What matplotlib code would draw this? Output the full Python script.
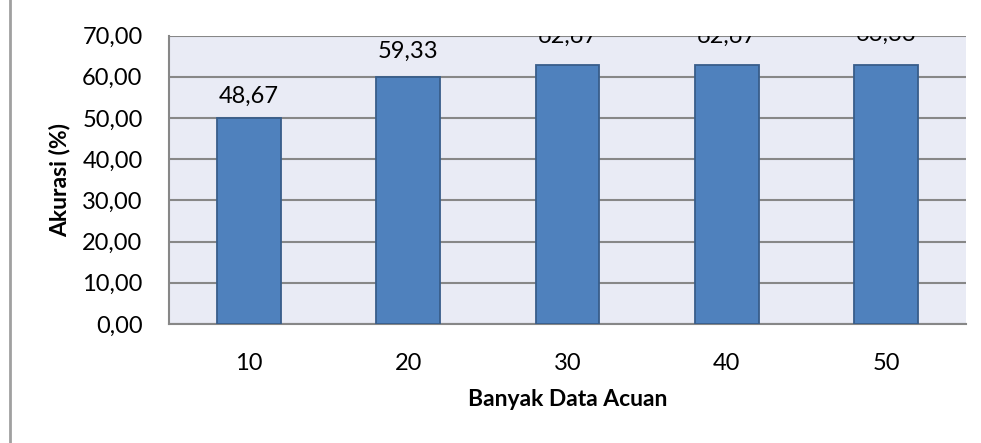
import numpy as np
import matplotlib.pyplot as plt
from matplotlib.lines import Line2D

categories = ['10', '20', '30', '40', '50']
bar_values = [50.0, 60.0, 62.8, 62.8, 62.8]
label_texts = ['48,67', '59,33', '62,67', '62,67', '63,33']
label_y = [55.2, 66.2, 69.9, 69.9, 70.4]
yticks = [0, 10, 20, 30, 40, 50, 60, 70]
ytick_labels = ['0,00', '10,00', '20,00', '30,00', '40,00', '50,00', '60,00', '70,00']

plt.rcParams['font.family'] = ['Lato', 'DejaVu Sans']

fig = plt.figure(figsize=(9.81, 4.43), dpi=100)
ax = fig.add_axes([169 / 981, (443 - 324) / 443, (966 - 169) / 981, (324 - 35.5) / 443])
ax.set_facecolor('#E9EBF5')

x = np.arange(len(categories))
ax.bar(x, bar_values, width=0.4, color='#4F81BD', edgecolor='#385D8A', linewidth=1.3, zorder=3)

# labels are placed by hand in the original, and clipped by the plot area
for xi, yi, t in zip(x, label_y, label_texts):
    ax.text(xi, yi, t, ha='center', va='center', fontsize=17, clip_on=True, zorder=4)

ax.set_xlim(-0.5, len(categories) - 0.5)
ax.set_ylim(0, 70)
ax.set_yticks(yticks)
ax.set_yticklabels(ytick_labels, fontsize=17)
ax.set_xticks(x)
ax.set_xticklabels(categories, fontsize=17)
ax.tick_params(axis='y', length=0, pad=19)
ax.tick_params(axis='x', length=0, pad=21)
ax.yaxis.grid(True, color='#878787', linewidth=1.5, zorder=0)
ax.set_axisbelow(True)

for s in ['top', 'right']:
    ax.spines[s].set_visible(False)
ax.spines['left'].set_color('#878787')
ax.spines['left'].set_linewidth(1.5)
ax.spines['bottom'].set_color('#878787')
ax.spines['bottom'].set_linewidth(1.5)

ax.set_xlabel('Banyak Data Acuan', fontsize=16.5, fontweight='bold')
ax.set_ylabel('Akurasi (%)', fontsize=16.5, fontweight='bold')
ax.xaxis.set_label_coords(0.5, (324 - 389) / 288.5)
ax.yaxis.set_label_coords((70 - 169) / 797, 0.5)

fig.add_artist(Line2D([10 / 981, 10 / 981], [0, 1], color='#A0A0A0', linewidth=2))

fig.savefig('out.png', dpi=100)
